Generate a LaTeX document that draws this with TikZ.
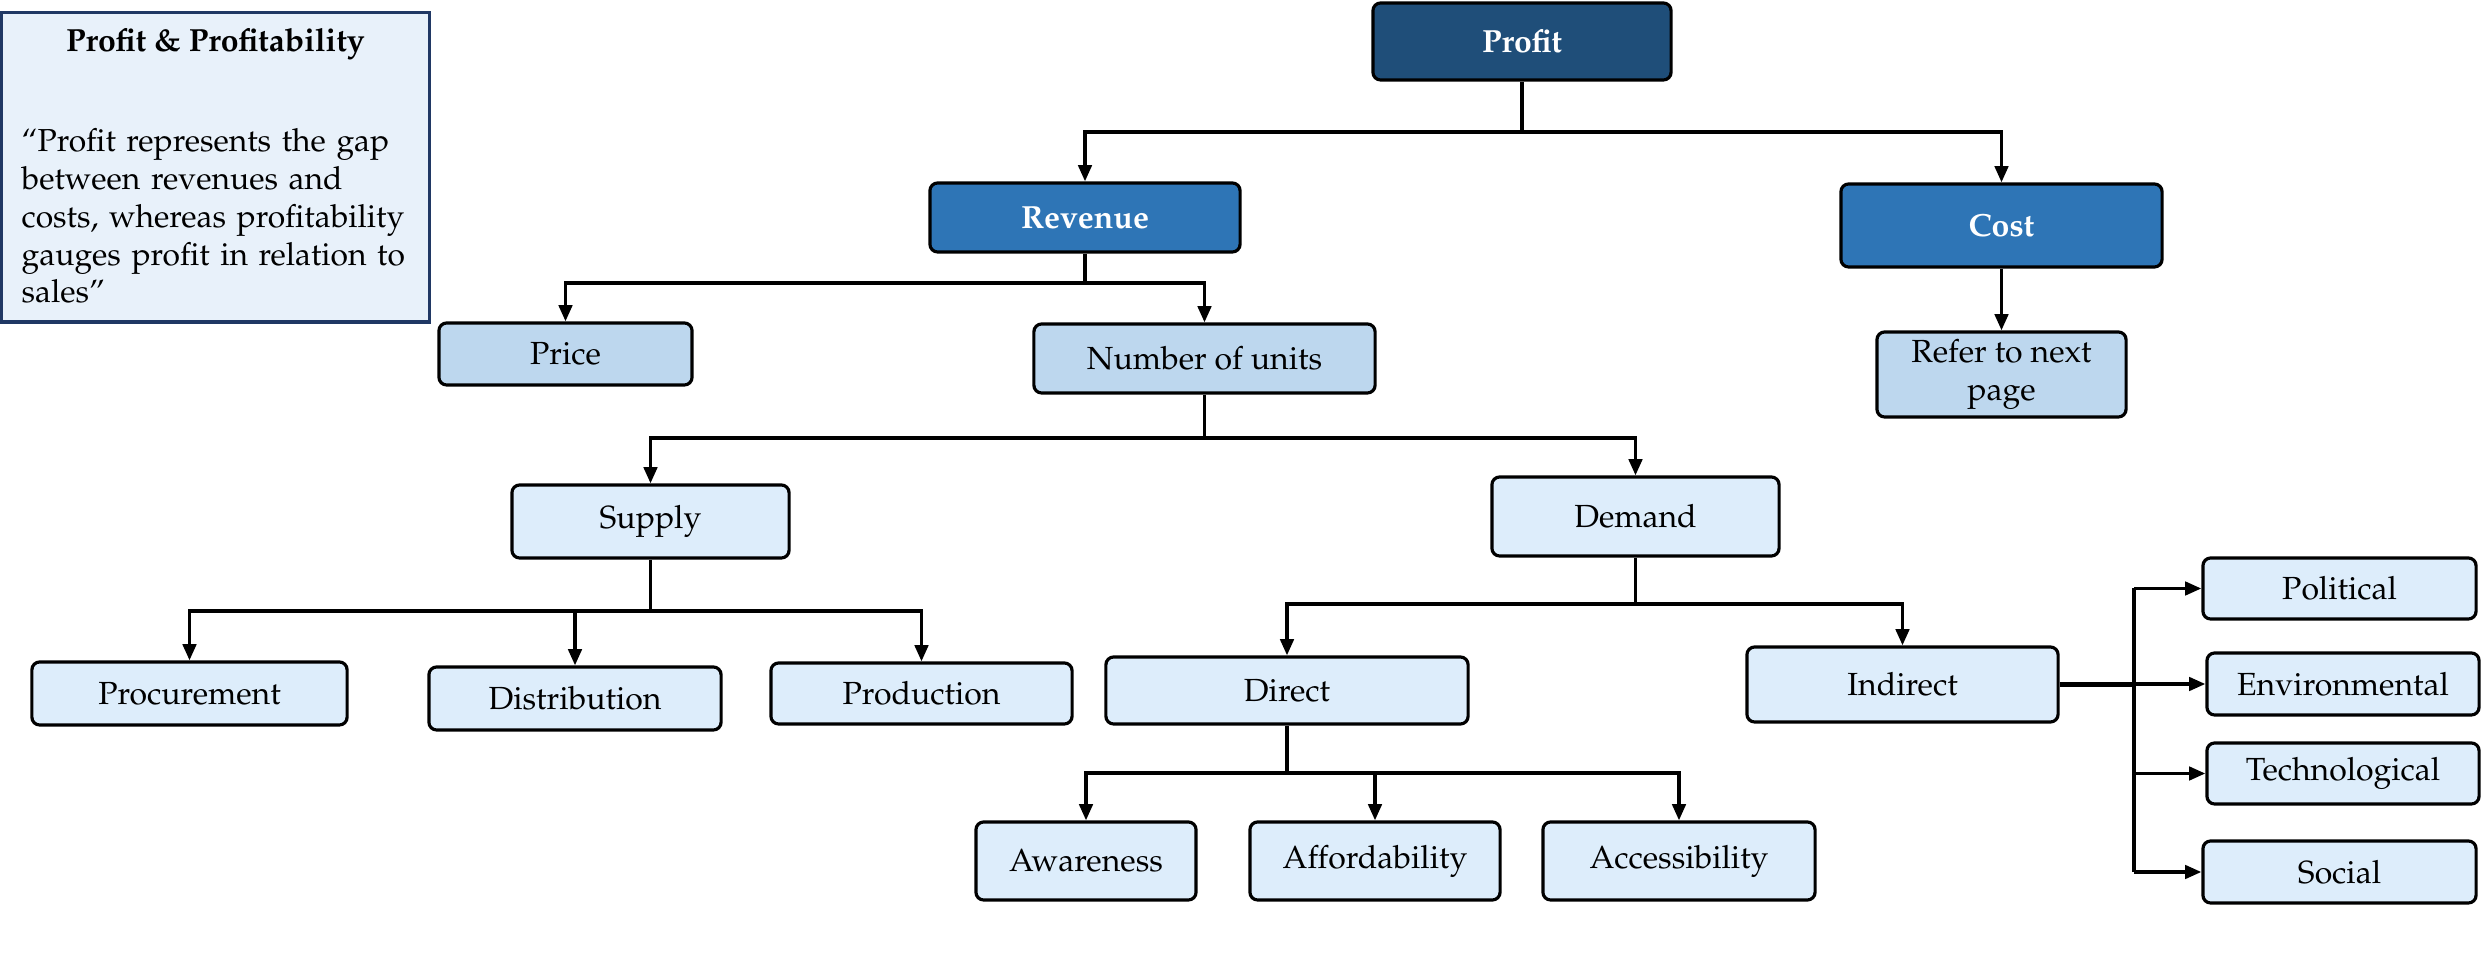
\documentclass[tikz,border=0pt]{standalone}
\usepackage[T1]{fontenc}
\usepackage{mathpazo}
\usetikzlibrary{arrows.meta}
\definecolor{navy}{HTML}{1F4E79}
\definecolor{midblue}{HTML}{2E75B6}
\definecolor{paleblue}{HTML}{BDD7EE}
\definecolor{lightblue}{HTML}{DDEDFB}
\definecolor{notefill}{HTML}{E8F1FA}
\definecolor{noteedge}{HTML}{203864}
\tikzset{
  box/.style={draw=black, line width=0.9pt, rounded corners=2.2pt, align=center,
    inner sep=0pt, font=\fontsize{9.1}{10.8}\selectfont},
  topbox/.style={box, fill=navy, text=white, font=\fontsize{9.1}{10.8}\selectfont\bfseries},
  keybox/.style={box, fill=midblue, text=white, font=\fontsize{9.1}{10.8}\selectfont\bfseries},
  midbox/.style={box, fill=paleblue},
  leafbox/.style={box, fill=lightblue},
  wire/.style={draw=black, line width=0.95pt},
  arrowwire/.style={wire, -{Triangle[length=4.6pt,width=3.8pt]}},
}
\begin{document}
\begin{tikzpicture}[x=0.01cm, y=-0.01cm]
\useasboundingbox (0,0) rectangle (2484,980);

% definition panel
\node[draw=noteedge, line width=0.9pt, fill=notefill, minimum width=4.27cm, minimum height=3.09cm,
  inner sep=0pt] (note) at (215.5,167.5) {};
\node[font=\fontsize{9.1}{10.8}\selectfont\bfseries] (notetitle) at (215.5,44) {Profit \& Profitability};
\node[anchor=north west, align=left, inner sep=0pt, text width=4cm,
  font=\fontsize{9.05}{10.75}\selectfont] (notebody) at (21,128)
  {``Profit represents the gap\\between revenues and\\costs, whereas profitability\\gauges profit in relation to\\sales''};

% tree nodes
\node[topbox, minimum width=2.98cm, minimum height=0.77cm] (profit) at (1522,41.5) {Profit};
\node[keybox, minimum width=3.10cm, minimum height=0.69cm] (revenue) at (1085,217.5) {Revenue};
\node[keybox, minimum width=3.21cm, minimum height=0.83cm] (cost) at (2001.5,225.5) {Cost};
\node[midbox, minimum width=2.53cm, minimum height=0.62cm] (price) at (565.5,354) {Price};
\node[midbox, minimum width=3.41cm, minimum height=0.69cm] (units) at (1204.5,358.5) {Number of units};
\node[midbox, minimum width=2.49cm, minimum height=0.85cm] (refer) at (2001.5,374.5) {Refer to next\\page};
\node[leafbox, minimum width=2.77cm, minimum height=0.73cm] (supply) at (650.5,521.5) {Supply};
\node[leafbox, minimum width=2.87cm, minimum height=0.79cm] (demand) at (1635.5,516.5) {Demand};
\node[leafbox, minimum width=3.15cm, minimum height=0.63cm] (procurement) at (189.5,693.5) {Procurement};
\node[leafbox, minimum width=2.92cm, minimum height=0.63cm] (distribution) at (575,698.5) {Distribution};
\node[leafbox, minimum width=3.01cm, minimum height=0.61cm] (production) at (921.5,693.5) {Production};
\node[leafbox, minimum width=3.62cm, minimum height=0.67cm] (direct) at (1287,690.5) {Direct};
\node[leafbox, minimum width=3.11cm, minimum height=0.75cm] (indirect) at (1902.5,684.5) {Indirect};
\node[leafbox, minimum width=2.20cm, minimum height=0.78cm] (awareness) at (1086,861) {Awareness};
\node[leafbox, minimum width=2.50cm, minimum height=0.78cm] (affordability) at (1375,861) {Affordability};
\node[leafbox, minimum width=2.72cm, minimum height=0.78cm] (accessibility) at (1679,861) {Accessibility};
\node[leafbox, minimum width=2.73cm, minimum height=0.61cm] (political) at (2339.5,588.5) {Political};
\node[leafbox, minimum width=2.72cm, minimum height=0.62cm] (environmental) at (2343,684) {Environmental};
\node[leafbox, minimum width=2.72cm, minimum height=0.61cm] (technological) at (2343,773.5) {Technological};
\node[leafbox, minimum width=2.73cm, minimum height=0.62cm] (social) at (2339.5,872) {Social};

% profit -> revenue, cost
\draw[wire] (profit.south) -- (profit.south |- 0,132) coordinate (busprofit);
\draw[arrowwire] (busprofit) -| (revenue.north);
\draw[arrowwire] (busprofit) -| (cost.north);

% revenue -> price, units
\draw[wire] (revenue.south) -- (revenue.south |- 0,283) coordinate (busrevenue);
\draw[arrowwire] (busrevenue) -| (price.north);
\draw[arrowwire] (busrevenue) -| (units.north);

% cost -> refer
\draw[arrowwire] (cost.south) -- (refer.north);

% units -> supply, demand
\draw[wire] (units.south) -- (units.south |- 0,438) coordinate (busunits);
\draw[arrowwire] (busunits) -| (supply.north);
\draw[arrowwire] (busunits) -| (demand.north);

% supply -> procurement, distribution, production
\draw[wire] (supply.south) -- (supply.south |- 0,611) coordinate (bussupply);
\draw[arrowwire] (bussupply) -| (procurement.north);
\draw[arrowwire] (bussupply) -| (distribution.north);
\draw[arrowwire] (bussupply) -| (production.north);

% demand -> direct, indirect
\draw[wire] (demand.south) -- (demand.south |- 0,604) coordinate (busdemand);
\draw[arrowwire] (busdemand) -| (direct.north);
\draw[arrowwire] (busdemand) -| (indirect.north);

% direct -> awareness, affordability, accessibility
\draw[wire] (direct.south) -- (direct.south |- 0,773) coordinate (busdirect);
\draw[arrowwire] (busdirect) -| (awareness.north);
\draw[arrowwire] (busdirect) -| (affordability.north);
\draw[arrowwire] (busdirect) -| (accessibility.north);

% indirect -> external factors
\coordinate (spine) at (2134,684);
\draw[wire, line width=1.2pt] (indirect.east) -- (indirect.east -| spine);
\draw[wire, line width=1.2pt] (political.west -| spine) -- (social.west -| spine);
\draw[arrowwire] (political.west -| spine) -- (political.west);
\draw[arrowwire] (environmental.west -| spine) -- (environmental.west);
\draw[arrowwire] (technological.west -| spine) -- (technological.west);
\draw[arrowwire] (social.west -| spine) -- (social.west);
\end{tikzpicture}
\end{document}
